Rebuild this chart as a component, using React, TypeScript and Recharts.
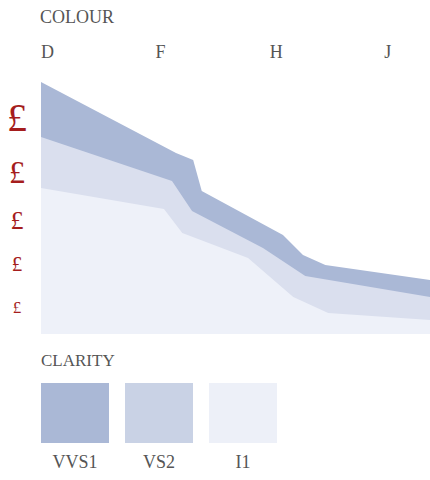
import { AreaChart, Area, XAxis, YAxis } from 'recharts';

// colour grades along the top axis (only every other one is labelled)
const colours = ['D', 'E', 'F', 'G', 'H', 'I', 'J'];
const colourTicks = [0, 2, 4, 6];

// price level marks on the left, smallest to largest
const priceTicks = [27, 70, 114, 162, 216];
const poundSizes = [17, 21, 26, 32, 40];

// [colour position, price level]
const vvs1: [number, number][] = [
  [0, 252], [2.36, 181], [2.66, 174], [2.81, 143], [4.23, 99], [4.58, 79], [4.97, 69], [6.8, 54],
];
const vs2: [number, number][] = [
  [0, 197], [2.29, 153], [2.64, 123], [3.88, 86], [4.62, 58], [6.8, 37],
];
const i1: [number, number][] = [
  [0, 146], [2.15, 125], [2.47, 101], [3.62, 76], [4.41, 37], [5.02, 21], [6.8, 14],
];

const FONT = '"Liberation Serif", "Times New Roman", serif';
const TEXT = '#555555';

const SERIES = [
  { name: 'VVS1', points: vvs1, fill: '#aab8d6', swatch: '#aab8d6' },
  { name: 'VS2', points: vs2, fill: '#dadfee', swatch: '#c9d2e5' },
  { name: 'I1', points: i1, fill: '#eef1f9', swatch: '#edf0f8' },
];

// merge every series onto one table, gaps are bridged with connectNulls
const xs = Array.from(new Set(SERIES.flatMap((s) => s.points.map((p) => p[0])))).sort((a, b) => a - b);
const chartData = xs.map((x) => {
  const row: Record<string, number | null> = { x };
  SERIES.forEach((s) => {
    const hit = s.points.find((p) => p[0] === x);
    row[s.name] = hit ? hit[1] : null;
  });
  return row;
});

function ColourTick(props: any) {
  const { x, payload } = props;
  return (
    <text x={x} y={58} textAnchor="start" fill={TEXT} fontSize={18} fontFamily={FONT}>
      {colours[payload.value]}
    </text>
  );
}

function PoundTick(props: any) {
  const { y, payload } = props;
  const fs = poundSizes[priceTicks.indexOf(payload.value)] ?? 20;
  return (
    <text x={17} y={y + fs * 0.33} textAnchor="middle" fill="#a51d1d" fontSize={fs} fontFamily={FONT}>
      £
    </text>
  );
}

export default function App() {
  return (
    <div style={{ position: 'absolute', left: 0, top: 0, width: 430, height: 480, background: '#fff', fontFamily: FONT, color: TEXT }}>
      <div style={{ position: 'absolute', left: 40, top: 8, fontSize: 18, lineHeight: '18px' }}>COLOUR</div>

      <AreaChart width={430} height={340} data={chartData} margin={{ top: 0, right: 0, bottom: 6, left: 0 }}>
        <XAxis
          dataKey="x"
          type="number"
          orientation="top"
          domain={[0, 6.8]}
          ticks={colourTicks}
          interval={0}
          height={74}
          axisLine={false}
          tickLine={false}
          tick={<ColourTick />}
        />
        <YAxis
          type="number"
          domain={[0, 260]}
          ticks={priceTicks}
          interval={0}
          width={41}
          axisLine={false}
          tickLine={false}
          tick={<PoundTick />}
        />
        {SERIES.map((s) => (
          <Area
            key={s.name}
            type="linear"
            dataKey={s.name}
            fill={s.fill}
            fillOpacity={1}
            stroke="none"
            connectNulls
            dot={false}
            activeDot={false}
            isAnimationActive={false}
          />
        ))}
      </AreaChart>

      <div style={{ position: 'absolute', left: 41, top: 352, fontSize: 17, lineHeight: '18px' }}>CLARITY</div>
      {SERIES.map((s, i) => {
        const left = [41, 125, 209][i];
        return (
          <div key={s.name}>
            <div style={{ position: 'absolute', left, top: 383, width: 68, height: 60, background: s.swatch }} />
            <div style={{ position: 'absolute', left: left - 16, top: 453, width: 100, textAlign: 'center', fontSize: 18, lineHeight: '18px' }}>
              {s.name}
            </div>
          </div>
        );
      })}
    </div>
  );
}
